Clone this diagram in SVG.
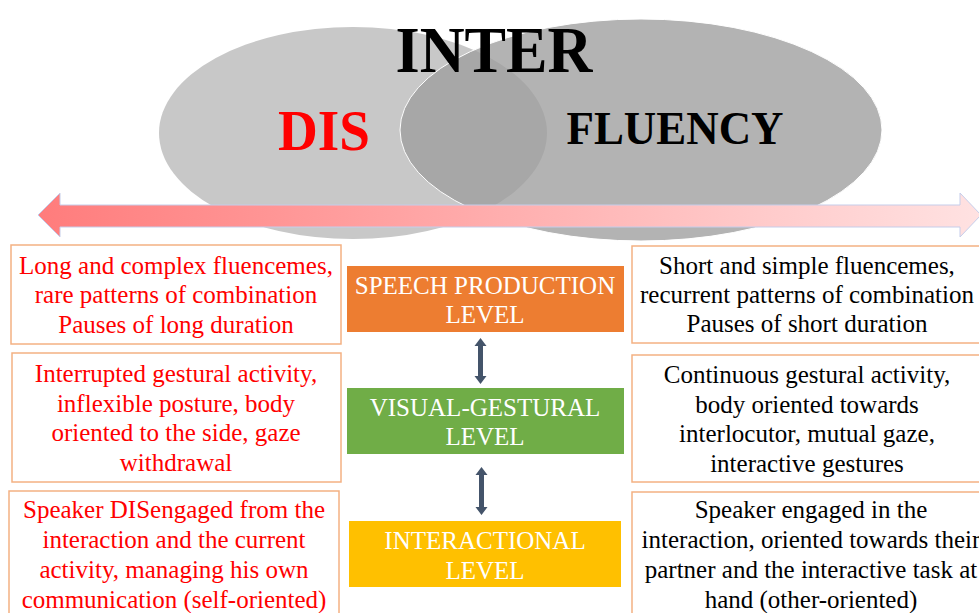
<svg xmlns="http://www.w3.org/2000/svg" width="979" height="613" viewBox="0 0 979 613">
<style>
.t{font-family:"Liberation Serif","Times New Roman",serif;font-size:25px;text-anchor:middle}
.red{fill:#ff0000}
.blk{fill:#000000}
.wht{fill:#ffffff}
.box{fill:#ffffff;stroke:#f4b183;stroke-width:1.5}
.big{font-family:"Liberation Serif","Times New Roman",serif;font-weight:bold;text-anchor:middle}
.dar{fill:#44546a}
</style>
<defs>
<linearGradient id="ag" x1="0" y1="0" x2="1" y2="0">
<stop offset="0" stop-color="#ff7c7c"/>
<stop offset="1" stop-color="#ffe2e2"/>
</linearGradient>
</defs>
<rect width="979" height="613" fill="#ffffff"/>
<g id="venn">
<ellipse cx="353" cy="133" rx="194" ry="106" fill="#c8c8c8"/>
<ellipse cx="641" cy="130" rx="241" ry="111" fill="#9e9e9e" fill-opacity="0.78" stroke="#ffffff" stroke-width="1"/>
<text class="big blk" x="494" y="72" font-size="65" textLength="197" lengthAdjust="spacingAndGlyphs">INTER</text>
<text class="big red" x="324" y="150" font-size="57" textLength="92" lengthAdjust="spacingAndGlyphs">DIS</text>
<text class="big blk" x="675" y="144" font-size="47" textLength="217" lengthAdjust="spacingAndGlyphs">FLUENCY</text>
</g>
<g id="scale-arrow">
<path d="M38,215 L60,193 L60,205 L960,205 L960,193 L981,215 L960,237 L960,227 L60,227 L60,237 Z" fill="url(#ag)" stroke="#c5cdea" stroke-width="1"/>
</g>
<g id="dis-speech">
<rect class="box" x="11" y="245" width="330" height="99"/>
<text class="t red" x="176" y="274">Long and complex fluencemes,</text>
<text class="t red" x="176" y="303">rare patterns of combination</text>
<text class="t red" x="176" y="333">Pauses of long duration</text>
</g>
<g id="dis-visual">
<rect class="box" x="12" y="353" width="329" height="129"/>
<text class="t red" x="176" y="382">Interrupted gestural activity,</text>
<text class="t red" x="176" y="412">inflexible posture, body</text>
<text class="t red" x="176" y="441">oriented to the side, gaze</text>
<text class="t red" x="176" y="471">withdrawal</text>
</g>
<g id="dis-interaction">
<rect class="box" x="9" y="491" width="330" height="130"/>
<text class="t red" x="174" y="518">Speaker DISengaged from the</text>
<text class="t red" x="174" y="548">interaction and the current</text>
<text class="t red" x="174" y="578">activity, managing his own</text>
<text class="t red" x="174" y="608">communication (self-oriented)</text>
</g>
<g id="speech-level">
<rect x="347" y="266" width="277" height="66" fill="#ed7d31"/>
<text class="t wht" x="485" y="294">SPEECH PRODUCTION</text>
<text class="t wht" x="485" y="323">LEVEL</text>
</g>
<g id="visual-level">
<rect x="347" y="388" width="277" height="66" fill="#70ad47"/>
<text class="t wht" x="485" y="416">VISUAL-GESTURAL</text>
<text class="t wht" x="485" y="445">LEVEL</text>
</g>
<g id="interaction-level">
<rect x="349" y="521" width="272" height="66" fill="#ffc000"/>
<text class="t wht" x="485" y="549">INTERACTIONAL</text>
<text class="t wht" x="485" y="579">LEVEL</text>
</g>
<g id="connectors">
<path class="dar" d="M480.5,338 L486.5,346 L483,346 L483,376 L486.5,376 L480.5,384 L474.5,376 L478,376 L478,346 L474.5,346 Z"/>
<path class="dar" d="M481.5,467 L487.5,475 L484,475 L484,507 L487.5,507 L481.5,515 L475.5,507 L479,507 L479,475 L475.5,475 Z"/>
</g>
<g id="fluency-speech">
<rect class="box" x="632" y="246" width="360" height="97"/>
<text class="t blk" x="807" y="274">Short and simple fluencemes,</text>
<text class="t blk" x="807" y="303">recurrent patterns of combination</text>
<text class="t blk" x="807" y="332">Pauses of short duration</text>
</g>
<g id="fluency-visual">
<rect class="box" x="632" y="355" width="360" height="127"/>
<text class="t blk" x="807" y="383">Continuous gestural activity,</text>
<text class="t blk" x="807" y="413">body oriented towards</text>
<text class="t blk" x="807" y="442">interlocutor, mutual gaze,</text>
<text class="t blk" x="807" y="472">interactive gestures</text>
</g>
<g id="fluency-interaction">
<rect class="box" x="632" y="492" width="360" height="130"/>
<text class="t blk" x="811" y="518">Speaker engaged in the</text>
<text class="t blk" x="811" y="548">interaction, oriented towards their</text>
<text class="t blk" x="811" y="578">partner and the interactive task at</text>
<text class="t blk" x="811" y="608">hand (other-oriented)</text>
</g>
</svg>
